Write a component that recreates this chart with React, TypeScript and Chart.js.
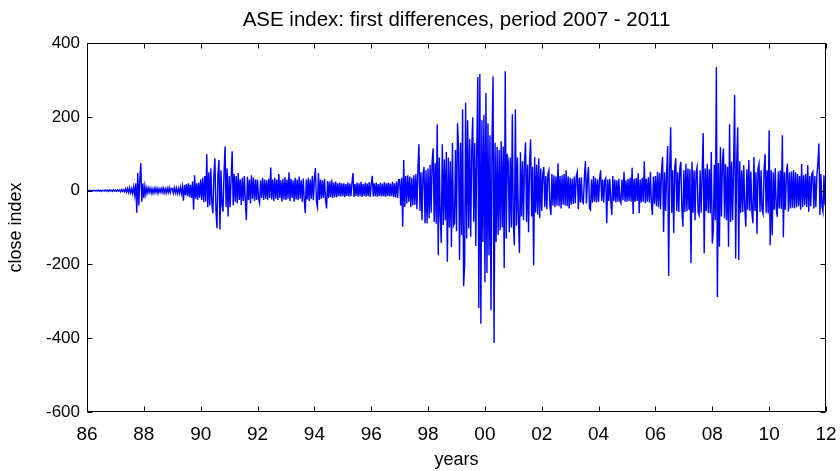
import { useEffect, useRef } from "react";
import { Chart, registerables } from "chart.js";

Chart.register(...registerables);

// Daily first differences of the ASE close index, thinned to 28 samples per year.
const FIRST_YEAR = 1986;
const SAMPLES_PER_YEAR = 28;

const d1986 = [0, 1, -1, 1, 0, -1, 1, 0, -1, 1, -1, 2, -1, 1, -2, 1, 0, -1, 2, -1, 1, -2, 2, -1, 1, -2, 2, -1];
const d1987 = [1, -2, 2, -1, 2, -3, 3, -2, 2, -3, 5, -4, 6, -5, 8, -6, 5, -8, 10, -12, 20, -60, 48, -40, 30, 75, -30, 20];
const d1988 = [-20, 12, -10, 8, -6, 7, -5, 6, -8, 5, -6, 7, -5, 6, -7, 5, -4, 6, -5, 7, -6, 5, -7, 6, -5, 8, -6, 7];
const d1989 = [6, -7, 8, -6, 7, -8, 6, -7, 9, -8, 10, -27, 15, -12, 18, -15, 20, -18, 16, -20, 25, -52, 42, -22, 20, -25, 22, -20];
const d1990 = [30, -25, 35, -31, 40, -30, 99, -45, 50, -40, 60, -35, -61, 40, 88, -50, -102, 45, 83, -105, 55, -40, -57, 50, 120, -45, 60, -70];
const d1991 = [40, -45, 35, 107, -40, 45, -30, 40, -35, 48, -25, 30, -39, 35, -28, 40, -30, -80, 38, -25, 30, -35, 42, -22, 35, -28, 30, -25];
const d1992 = [30, -22, -34, 28, -20, 35, -25, 30, -22, 28, -26, 32, -20, 63, -24, 30, -28, 35, -22, 30, -25, 45, -20, 28, -30, 32, -24, 36];
const d1993 = [-25, 30, -22, 50, -28, 32, -20, 28, -30, 35, -24, 30, -26, 38, -22, 28, -30, 33, -25, -61, 30, -24, 35, -28, 30, -22, 40, -26];
const d1994 = [30, 61, -30, -44, 48, -25, 30, -22, 28, -20, 32, -25, -48, 26, -20, 25, -18, 30, -20, 22, -17, 25, -18, 20, -15, 22, -16, 20];
const d1995 = [-15, 20, -17, 18, -14, 22, -16, 19, -15, 20, 48, -17, 18, -14, 22, -16, 20, -15, 24, -17, 18, -14, 21, -16, 19, -15, 23, -17];
const d1996 = [18, 40, -16, 20, -15, 22, -17, 18, -14, 21, -16, 19, -15, 23, -17, 20, -14, 22, -16, 19, -15, 24, -17, 20, -18, 25, -20, 30];
const d1997 = [30, -40, 35, -98, 83, -44, 40, -35, 42, -30, 38, -44, 35, -40, 42, -38, 45, -50, 60, 126, -55, 50, -80, 45, 64, -88, 55, -89];
const d1998 = [60, -75, 70, -60, 80, 115, -85, 75, -90, 180, -175, 90, -70, -142, 126, -93, 85, -80, 105, -193, 90, -100, 80, -153, 129, -95, -88, 110];
const d1999 = [-110, 183, 118, -188, 130, -120, 221, -259, -202, 238, -130, 191, -102, 140, -125, 110, 199, -84, 129, -150, 120, 308, -318, 316, -361, 191, -139, 205];
const d2000 = [-248, 265, -223, 183, -175, 150, -324, 140, 310, -413, 130, -139, 118, -120, 110, -107, 134, -100, 120, -210, 324, -130, 100, 77, -113, 90, -100, 207];
const d2001 = [-90, -148, 221, -95, 90, -80, -169, 104, -70, 80, -80, 75, 131, -85, 70, -113, 80, 139, -70, 65, -202, 91, -60, 70, -65, 87, -75, 60];
const d2002 = [-55, 45, 64, -45, 40, -50, 45, 55, -42, -66, 45, -40, 42, -45, 38, -40, 74, -42, 40, -48, 42, -38, 45, -40, 55, -42, 38, -48];
const d2003 = [35, -38, 32, -36, 38, -34, 40, 51, -50, 35, -32, 36, -30, -34, 38, 80, -35, 32, 64, -48, -52, 30, -33, 40, -30, 34, -32, 30];
const d2004 = [-30, 32, 55, -28, 30, -32, 28, 34, -88, 30, -28, 32, -30, -66, 40, -28, 30, -32, 28, -30, 32, -28, -34, 30, -26, 51, -30, 28];
const d2005 = [-30, 32, -28, 35, -30, 62, -63, 32, -30, 34, -28, 48, -61, 30, -32, 35, -30, 80, -34, 32, -30, 36, -32, 51, -35, -66, 38, -36];
const d2006 = [40, -42, 51, -45, 48, -50, 55, 91, -112, 50, -55, 48, 121, -231, 60, 172, -60, 55, -115, 62, 88, -55, 50, -58, 60, 78, -48, -98];
const d2007 = [55, -58, 73, -55, 60, -52, 58, -197, 78, -60, 55, -80, 50, 64, -58, -66, 55, -60, 50, 156, -170, 60, -55, 73, -60, 58, -62, 105];
const d2008 = [-143, -107, 70, -80, 335, -288, 75, -152, 118, -70, 80, 114, -75, 72, -80, 65, -152, 180, -85, 78, -80, 70, 259, -184, 75, 172, -188, 80];
const d2009 = [-60, 55, -58, 69, -50, -98, 58, -52, 83, -55, 52, -60, -88, 91, -55, 50, -117, 60, 73, -58, 55, -52, -63, 58, 99, -60, 55, -62];
const d2010 = [164, -148, 55, -121, 50, -52, 61, -50, -71, 52, -48, 55, -50, 150, -126, 50, -52, 48, 73, -57, 50, -48, 52, -46, 55, -48, 50, -45];
const d2011 = [45, -42, 40, -52, 72, -45, 42, -40, 45, -44, 69, -57, 40, -42, 45, 51, -48, 40, -45, 42, 73, 128, -66, 45, -42, -57, 42, -40];

const yearLabels = ["86", "88", "90", "92", "94", "96", "98", "00", "02", "04", "06", "08", "10", "12"];
const closeTicks = [-600, -400, -200, 0, 200, 400];

const closeDiffs = [
  d1986, d1987, d1988, d1989, d1990, d1991, d1992, d1993, d1994, d1995, d1996, d1997, d1998,
  d1999, d2000, d2001, d2002, d2003, d2004, d2005, d2006, d2007, d2008, d2009, d2010, d2011,
].flat();

const FONT = "'Liberation Sans', Arial, Helvetica, sans-serif";
const X_MIN = FIRST_YEAR;
const X_MAX = FIRST_YEAR + (yearLabels.length - 1) * 2;

// MATLAB-style closed box with inward tick marks on all four sides.
const boxPlugin = {
  id: "matlabBox",
  afterDraw(chart: any) {
    const { ctx, chartArea: a, scales } = chart;
    const L = Math.round(a.left) + 0.5;
    const R = Math.round(a.right) - 0.5;
    const T = Math.round(a.top) + 0.5;
    const B = Math.round(a.bottom) - 0.5;
    const len = 5;
    ctx.save();
    ctx.strokeStyle = "#000";
    ctx.lineWidth = 1;
    ctx.strokeRect(L, T, R - L, B - T);
    ctx.beginPath();
    yearLabels.forEach((_, i) => {
      const px = Math.round(scales.x.getPixelForValue(X_MIN + i * 2)) + 0.5;
      ctx.moveTo(px, B);
      ctx.lineTo(px, B - len);
      ctx.moveTo(px, T);
      ctx.lineTo(px, T + len);
    });
    closeTicks.forEach((v) => {
      const py = Math.round(scales.y.getPixelForValue(v)) + 0.5;
      ctx.moveTo(L, py);
      ctx.lineTo(L + len, py);
      ctx.moveTo(R, py);
      ctx.lineTo(R - len, py);
    });
    ctx.stroke();
    ctx.restore();
  },
};

export default function App() {
  const canvasRef = useRef<HTMLCanvasElement | null>(null);

  useEffect(() => {
    const canvas = canvasRef.current;
    if (!canvas) return;
    const points = closeDiffs.map((v, i) => ({ x: FIRST_YEAR + i / SAMPLES_PER_YEAR, y: v }));

    const chart = new Chart(canvas, {
      type: "line",
      data: {
        datasets: [
          {
            data: points,
            borderColor: "#0000ff",
            borderWidth: 1.4,
            pointRadius: 0,
            tension: 0,
            fill: false,
          },
        ],
      },
      options: {
        animation: false,
        responsive: false,
        devicePixelRatio: 1,
        parsing: false,
        normalized: true,
        layout: { padding: { left: 0, right: 14, top: 0, bottom: 0 } },
        plugins: {
          legend: { display: false },
          tooltip: { enabled: false },
          title: {
            display: true,
            fullSize: false,
            text: "ASE index: first differences, period 2007 - 2011",
            color: "#000",
            font: { family: FONT, size: 20.5, weight: "normal" },
            padding: { top: 8.5, bottom: 10 },
          },
        },
        scales: {
          x: {
            type: "linear",
            min: X_MIN,
            max: X_MAX,
            grid: { display: false, drawTicks: false },
            border: { display: false },
            ticks: {
              stepSize: 2,
              autoSkip: false,
              maxRotation: 0,
              color: "#000",
              padding: 11,
              font: { family: FONT, size: 19 },
              callback: (value: any) => yearLabels[Math.round((Number(value) - X_MIN) / 2)] ?? "",
            },
            title: {
              display: true,
              text: "years",
              color: "#000",
              font: { family: FONT, size: 18 },
              padding: { top: 0, bottom: 0 },
            },
            afterFit: (scale: any) => {
              scale.height = 59;
              scale.paddingLeft = 0;
              scale.paddingRight = 0;
            },
          },
          y: {
            type: "linear",
            min: closeTicks[0],
            max: closeTicks[closeTicks.length - 1],
            grid: { display: false, drawTicks: false },
            border: { display: false },
            ticks: {
              stepSize: 200,
              color: "#000",
              padding: 7,
              font: { family: FONT, size: 17 },
            },
            title: {
              display: true,
              text: "close index",
              color: "#000",
              font: { family: FONT, size: 18 },
              padding: { top: 5, bottom: 0 },
            },
            afterFit: (scale: any) => {
              scale.width = 87;
              scale.paddingTop = 0;
              scale.paddingBottom = 0;
            },
          },
        },
      },
      plugins: [boxPlugin],
    });

    return () => chart.destroy();
  }, []);

  return (
    <div style={{ position: "absolute", left: 0, top: 0, width: 840, height: 471, background: "#fff" }}>
      <canvas ref={canvasRef} width={840} height={471} style={{ display: "block" }} />
    </div>
  );
}
